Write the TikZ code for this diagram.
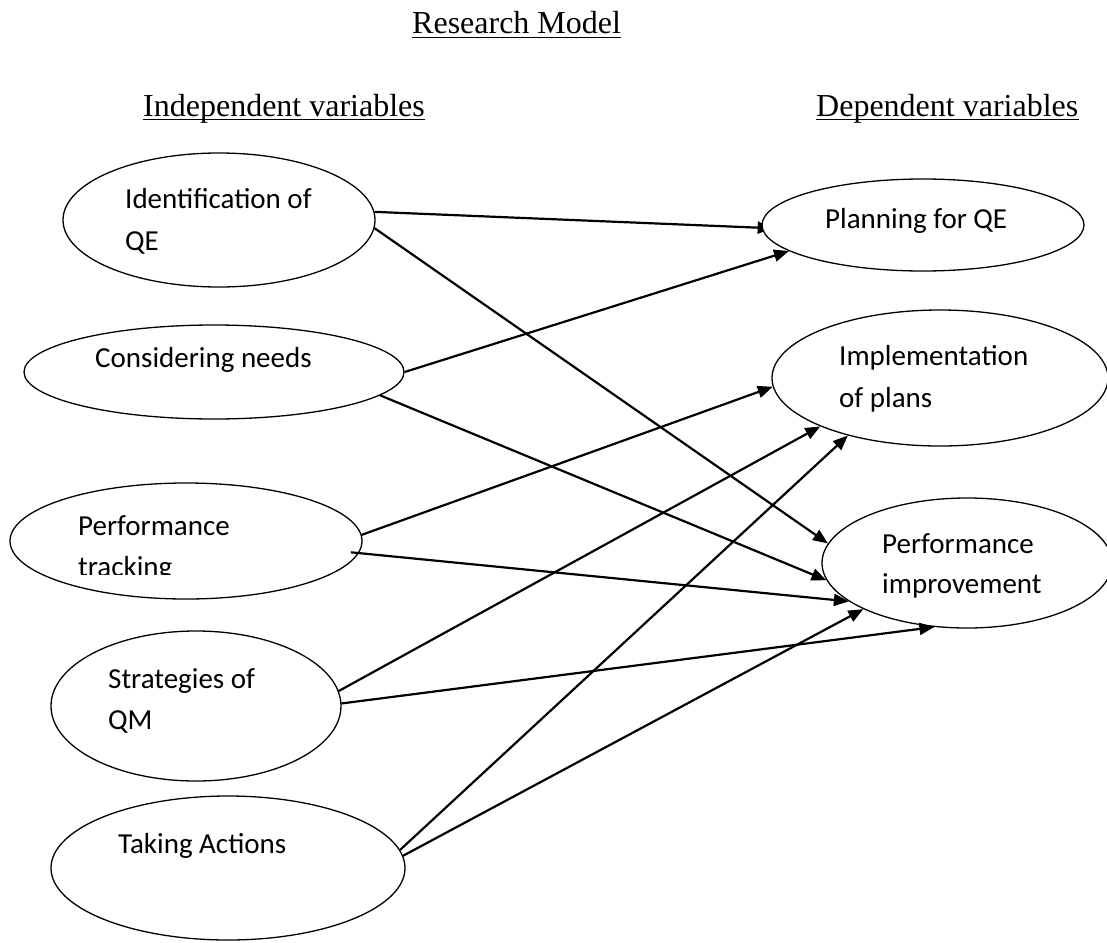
\documentclass[tikz,border=0pt]{standalone}
\usepackage{fontspec}
\setmainfont{Liberation Serif}
\newfontfamily\calibri{Carlito}
\usetikzlibrary{shapes.geometric,arrows.meta}
\pgfdeclarelayer{bg}
\pgfsetlayers{bg,main}
\begin{document}
\begin{tikzpicture}[x=1pt,y=-1pt,
  oval/.style 2 args={ellipse,draw,line width=1.3pt,inner sep=0pt,minimum width=#1,minimum height=#2},
  txt/.style={font=\calibri\fontsize{29}{35}\selectfont,anchor=base west,inner sep=0pt},
  head/.style={font=\fontsize{32}{38}\selectfont,anchor=base west,inner sep=0pt},
  uline/.style={line width=1.8pt},
  arr/.style={line width=2.2pt,-{Triangle[length=15pt,width=12pt]}}
]
\useasboundingbox (0,0) rectangle (1107,942);

% headings
\node[head] (title) at (412,34) {Research Model};
\node[head] (indep) at (143,116) {Independent variables};
\node[head] (dep) at (816,116) {Dependent variables};
\draw[uline] ([yshift=-3.5pt]title.base west) -- ([yshift=-3.5pt]title.base east);
\draw[uline] ([yshift=-3.5pt]indep.base west) -- ([yshift=-3.5pt]indep.base east);
\draw[uline] ([yshift=-3.5pt]dep.base west) -- ([yshift=-3.5pt]dep.base east);

% independent variables
\node[oval={312pt}{134pt}] (iqe) at (219,220) {};
\node[oval={380pt}{94pt}] (cn) at (214,372) {};
\node[oval={352pt}{116pt}] (pt) at (186,541) {};
\node[oval={290pt}{150pt}] (sqm) at (196,706) {};
\node[oval={354pt}{144pt}] (ta) at (228,868) {};

% dependent variables
\node[oval={322pt}{92pt},fill=white] (pfq) at (923,225) {};
\node[oval={336pt}{136pt}] (ip) at (940,378) {};
\node[oval={290pt}{130pt}] (pi) at (967,563) {};

% texts
\node[txt] (iqe1) at (125,208) {Identification of};
\node[txt] (iqe2) at (125,250) {QE};
\node[txt] (cn1) at (95,367) {Considering needs};
\node[txt] (pt1) at (78,535) {Performance};
\begin{scope}
  \clip (0,480) rectangle (400,574);
  \node[txt] (pt2) at (78,576) {tracking};
\end{scope}
\node[txt] (sqm1) at (108,688) {Strategies of};
\node[txt] (sqm2) at (108,729) {QM};
\node[txt] (ta1) at (118,853) {Taking Actions};
\node[txt] (pfq1) at (825,228) {Planning for QE};
\node[txt] (ip1) at (839,365) {Implementation};
\node[txt] (ip2) at (839,407) {of plans};
\node[txt] (pi1) at (882,553) {Performance};
\node[txt] (pi2) at (882,593) {improvement};

% connectors
\begin{pgfonlayer}{bg}
\draw[arr,shorten >=-11pt] (iqe.3) -- (pfq.181.5);
\draw[arr] (iqe.-3) -- (pi.172);
\draw[arr] (cn.0.6) -- (pfq.191.5);
\draw[arr] (cn.-8.6) -- (pi.187.4);
\draw[arr] (pt.2) -- (ip.183.1);
\draw[arr,shorten <=-8pt] (pt.-4.2) -- (pi.198.3);
\draw[arr] (sqm.6.7) -- (ip.202.6);
\draw[arr] (sqm.1.6) -- (pi.243.1);
\draw[arr] (ta.6) -- (ip.212.2);
\draw[arr] (ta.4.2) -- (pi.204.1);
\end{pgfonlayer}
\end{tikzpicture}
\end{document}
